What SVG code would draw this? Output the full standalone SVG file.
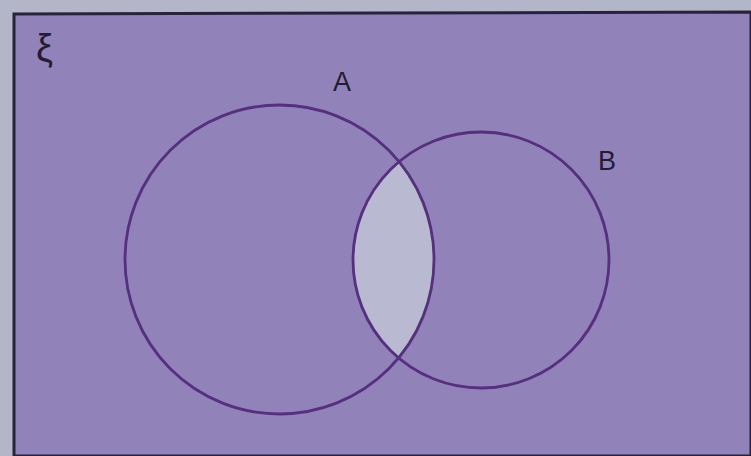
<svg xmlns="http://www.w3.org/2000/svg" width="751" height="456" viewBox="0 0 751 456">
<style>
.c{fill:none;stroke:#56307e;stroke-width:2.8}
.t{font-family:"Liberation Sans",Arial,sans-serif;fill:#231c35}
</style>
<defs>
<clipPath id="clipA"><circle cx="279.5" cy="259.5" r="154.5"/></clipPath>
</defs>
<rect x="0" y="0" width="751" height="456" fill="#b3b5c9"/>
<g id="universe">
<path d="M14,14 L751,12 L751,456 L14,456 Z" fill="#9182b9" stroke="#27233d" stroke-width="3"/>
<text class="t" x="36" y="61" font-size="38" font-family="'DejaVu Serif',serif">ξ</text>
</g>
<g id="intersection">
<circle cx="481" cy="260" r="128" fill="#b9b9d1" clip-path="url(#clipA)"/>
</g>
<g id="A">
<circle class="c" cx="279.5" cy="259.5" r="154.5"/>
<text class="t" x="333" y="91" font-size="27">A</text>
</g>
<g id="B">
<circle class="c" cx="481" cy="260" r="128"/>
<text class="t" x="598" y="170" font-size="27">B</text>
</g>
<g id="connectors"></g>
</svg>
